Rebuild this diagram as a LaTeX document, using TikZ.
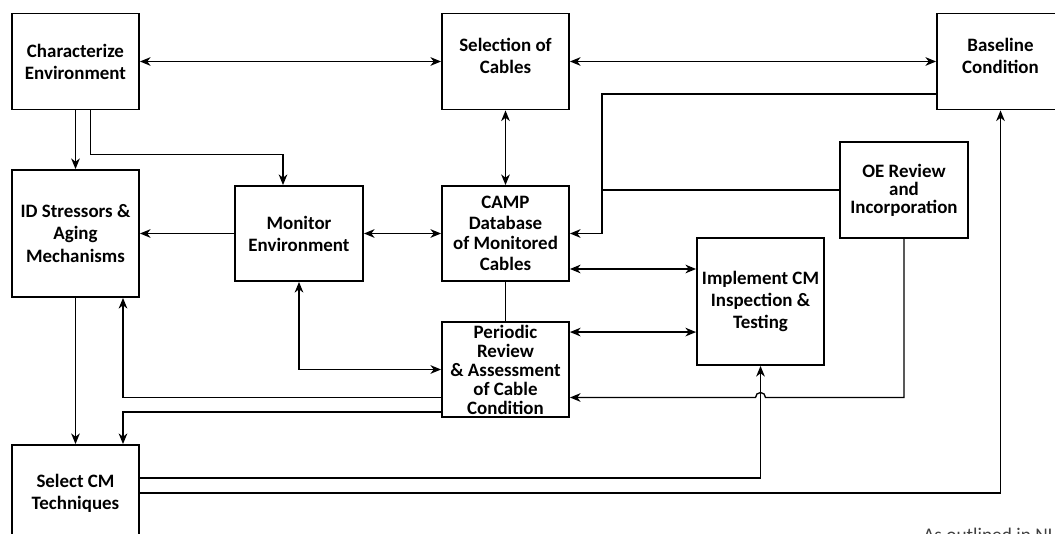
\documentclass[tikz,border=0pt]{standalone}
\usepackage{fontspec}
\setmainfont{Carlito}
\usepackage{tikz}
\usetikzlibrary{calc,positioning}
\usetikzlibrary{arrows.meta}
\tikzset{>={Stealth[length=8pt,width=6.5pt,inset=2.5pt]}}

\begin{document}
\begin{tikzpicture}[x=0.75pt,y=-0.75pt]
        \tikzstyle{bnode} = [draw, line width=1.4pt, rectangle, inner sep=0pt, align=center, minimum width=95.25pt, font=\bfseries\fontsize{14.2}{16.5}\selectfont]
        \tikzstyle{link} = [line width=1pt]
        \useasboundingbox (0,0) rectangle (1055,534);

        % top row
        \node[bnode, minimum height=72pt] (char) at (75.5,61.5) {Characterize\\Environment};
        \node[bnode, minimum height=72pt, text depth=9pt] (sel) at (505.5,61.5) {Selection of\\Cables};
        \node[bnode, minimum height=72pt, text depth=9pt] (base) at (1000.5,61.5) {Baseline\\Condition};

        % middle
        \node[bnode, minimum height=95.25pt, font=\bfseries\fontsize{14.2}{17}\selectfont] (id) at (75.5,233.5) {ID Stressors \&\\Aging\\Mechanisms};
        \node[bnode, minimum width=96pt, minimum height=71.25pt] (mon) at (299,233.5) {Monitor\\Environment};
        \node[bnode, minimum height=71.25pt, font=\bfseries\fontsize{14.2}{15.5}\selectfont] (camp) at (505.5,233.5) {CAMP\\Database\\of Monitored\\Cables};
        \node[bnode, minimum width=96pt, minimum height=72pt, font=\bfseries\fontsize{14.2}{13.5}\selectfont] (oe) at (904,190) {OE Review\\and\\Incorporation};
        \node[bnode, minimum height=95.25pt] (impl) at (760.5,301.5) {Implement CM\\Inspection \&\\Testing};
        \node[bnode, minimum height=71.25pt, font=\bfseries\fontsize{14.2}{14.25}\selectfont] (per) at (505.5,369.5) {Periodic\\Review\\\& Assessment\\of Cable\\Condition};

        % bottom
        \node[bnode, minimum height=72pt] (sc) at (75.5,493) {Select CM\\Techniques};
        \node[anchor=base west, inner sep=0pt, text=black!75, font=\fontsize{14.5}{16}\selectfont] (note) at (923,541) {As outlined in NU};

        \coordinate (bend) at ($(camp.east)+(32,0)$);
        \coordinate (c1) at ($(camp.east)+(0,35.5)$);
        \coordinate (c2) at ($(per.north east)+(0,11)$);

        \draw[link,<->] (char.east) -- (sel.west);
        \draw[link,<->] (sel.east) -- (base.west);
        \draw[link,->] (char.south) -- (id.north);
        \draw[link,->] ($(char.south)+(15,0)$) -- ++(0,44) -| ($(mon.north)+(-16,0)$);
        \draw[link,<->] (sel.south) -- (camp.north);
        \draw[link,->] ($(base.west)+(0,32.5)$) -| (bend) -- (camp.east);
        \draw[link] (oe.west) -- (oe.west -| bend);
        \draw[link,->] (mon.west) -- (id.east);
        \draw[link,<->] (mon.east) -- (camp.west);
        \draw[link,<->] (c1) -- (c1 -| impl.west);
        \draw[link] (camp.south) -- (per.north);
        \draw[link,<->] (c2) -- (c2 -| impl.west);
        \draw[link,<->] (mon.south) |- (per.west);
        \draw[link,->] ($(per.west)+(0,28)$) -| ($(id.south)+(47.5,0)$);
        \draw[link,->] ($(per.west)+(0,42.5)$) -| ($(sc.north)+(47.5,0)$);
        \draw[link,->] (id.south) -- (sc.north);
        \draw[link,->] ($(sc.east)+(0,-15)$) -| (impl.south);
        \draw[link,->] ($(sc.east)+(0,0)$) -| (base.south);
        \draw[link,->] (oe.south) |- ($(impl.south |- per.east)+(5,28)$) arc[start angle=0, end angle=180, radius=3.75pt] -- ($(per.east)+(0,28)$);

      \end{tikzpicture}
\end{document}
